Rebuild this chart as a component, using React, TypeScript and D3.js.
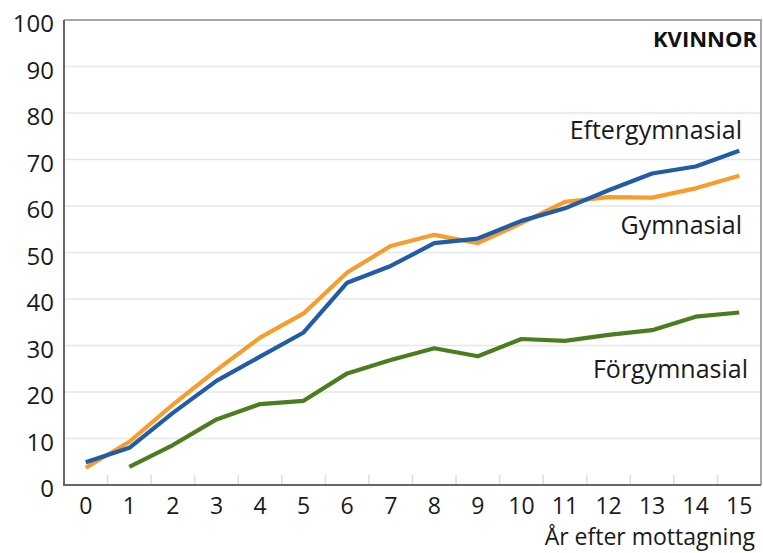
import React, {useEffect, useRef} from 'react';
import * as d3 from "d3"

// år efter mottagning
const years = [0, 1, 2, 3, 4, 5, 6, 7, 8, 9, 10, 11, 12, 13, 14, 15]
const yTicks = [0, 10, 20, 30, 40, 50, 60, 70, 80, 90, 100]

// andel (%) per utbildningsnivå
const eftergymnasial = [4.9, 8.0, 15.5, 22.4, 27.6, 32.8, 43.5, 47.1, 52.0, 53.0, 56.8, 59.5, 63.4, 67.0, 68.5, 71.9]
const gymnasial = [3.7, 9.3, 17.3, 24.7, 31.7, 36.9, 45.7, 51.4, 53.8, 52.0, 56.3, 60.9, 61.9, 61.8, 63.8, 66.5]
const forgymnasial = [null, 3.9, 8.6, 14.1, 17.4, 18.1, 24.0, 26.9, 29.4, 27.7, 31.4, 31.0, 32.3, 33.3, 36.2, 37.1]

const series = [
  {name: "Förgymnasial", values: forgymnasial, color: "#4b7d1f", lx: 748, ly: 378},
  {name: "Gymnasial", values: gymnasial, color: "#f69d2c", lx: 742, ly: 234},
  {name: "Eftergymnasial", values: eftergymnasial, color: "#205ca8", lx: 742, ly: 139},
]

const W = 763
const H = 553
const FONT = "'Open Sans', sans-serif"

export default function App() {
  const ref = useRef<SVGSVGElement>(null)

  useEffect(() => {
    const svg = d3.select(ref.current)
    svg.selectAll("*").remove()

    const left = 64, right = 761, top = 20, bottom = 485

    const x = d3.scaleBand<number>().domain(years).range([left, right])
    const cx = (d: number) => (x(d) as number) + x.bandwidth() / 2
    const y = d3.scaleLinear().domain([0, 100]).range([bottom, top])

    // rutnät
    svg.append("g")
      .selectAll("line")
      .data(yTicks.filter(t => t > 0 && t < 100))
      .join("line")
      .attr("x1", left).attr("x2", right)
      .attr("y1", d => y(d)).attr("y2", d => y(d))
      .attr("stroke", "#e6e6e6")
      .attr("stroke-width", 1.5)

    // små streck mellan åren
    svg.append("g")
      .selectAll("line")
      .data(years.slice(1))
      .join("line")
      .attr("x1", d => x(d) as number).attr("x2", d => x(d) as number)
      .attr("y1", bottom).attr("y2", bottom - 10)
      .attr("stroke", "#dddddd")
      .attr("stroke-width", 1.5)

    // ram
    svg.append("path")
      .attr("d", `M${left},${top}H${right}V${bottom}`)
      .attr("fill", "none")
      .attr("stroke", "#a8a8a8")
      .attr("stroke-width", 2)
    svg.append("path")
      .attr("d", `M${left},${top}V${bottom}H${right}`)
      .attr("fill", "none")
      .attr("stroke", "#666")
      .attr("stroke-width", 2)

    // y-etiketter
    svg.append("g")
      .selectAll("text")
      .data(yTicks)
      .join("text")
      .attr("x", 54)
      .attr("y", d => y(d) + 12)
      .attr("text-anchor", "end")
      .attr("font-family", FONT)
      .attr("font-size", 24)
      .attr("fill", "#1a1a1a")
      .text(d => d)

    // x-etiketter
    svg.append("g")
      .selectAll("text")
      .data(years)
      .join("text")
      .attr("x", d => cx(d))
      .attr("y", 514)
      .attr("text-anchor", "middle")
      .attr("font-family", FONT)
      .attr("font-size", 23)
      .attr("fill", "#1a1a1a")
      .text(d => d)

    svg.append("text")
      .attr("x", 755).attr("y", 545)
      .attr("text-anchor", "end")
      .attr("font-family", FONT)
      .attr("font-size", 23)
      .attr("fill", "#1a1a1a")
      .text("År efter mottagning")

    const line = d3.line<number | null>()
      .defined(d => d != null)
      .x((d, i) => cx(years[i]))
      .y(d => y(d as number))

    svg.append("g")
      .selectAll("path")
      .data(series)
      .join("path")
      .attr("d", d => line(d.values))
      .attr("fill", "none")
      .attr("stroke", d => d.color)
      .attr("stroke-width", 4.2)
      .attr("stroke-linejoin", "round")

    svg.append("g")
      .selectAll("text")
      .data(series)
      .join("text")
      .attr("x", d => d.lx)
      .attr("y", d => d.ly)
      .attr("text-anchor", "end")
      .attr("font-family", FONT)
      .attr("font-size", 25)
      .attr("fill", "#1a1a1a")
      .text(d => d.name)

    svg.append("text")
      .attr("x", 757).attr("y", 47)
      .attr("text-anchor", "end")
      .attr("font-family", FONT)
      .attr("font-size", 22)
      .attr("font-weight", "bold")
      .attr("fill", "#111")
      .text("KVINNOR")
  }, [])

  return (
    <svg
      ref={ref}
      width={W}
      height={H}
      style={{position: "absolute", left: 0, top: 0, background: "#fff"}}
    />
  )
}
